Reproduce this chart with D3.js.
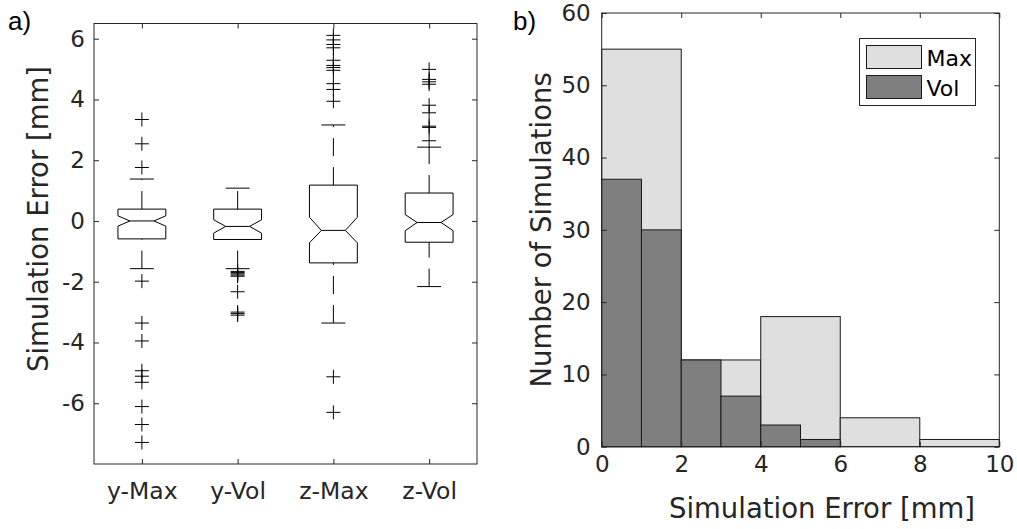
<!DOCTYPE html>
<html>
<head>
<meta charset="utf-8">
<script src="https://cdn.jsdelivr.net/npm/d3@7"></script>
<style>
  body { margin: 0; background: #fff; }
  svg { display: block; font-family: 'DejaVu Sans', sans-serif; }
  .tick text { fill: #262626; font-family: 'DejaVu Sans', sans-serif; }
</style>
</head>
<body>
<div id="chart"></div>
<script>
// Data - panel a (box plot summary stats)
const groups = ['y-Max', 'y-Vol', 'z-Max', 'z-Vol']
const q1 = [-0.59, -0.61, -1.38, -0.70]
const medians = [0, -0.18, -0.31, -0.05]
const q3 = [0.39, 0.39, 1.18, 0.92]
const notchLo = [-0.17, -0.40, -0.72, -0.32]
const notchHi = [0.17, 0.04, 0.12, 0.21]
const whiskerLo = [-1.57, -1.57, -3.36, -2.16]
const whiskerHi = [1.38, 1.08, 3.16, 2.43]
const outliers = [
  [3.34, 2.54, 1.76, -1.98, -3.36, -3.95, -4.93, -5.11, -5.31, -6.11, -6.70, -7.29],
  [-1.66, -1.70, -1.74, -1.78, -1.82, -2.33, -3.00, -3.05, -3.10],
  [6.11, 5.96, 5.81, 5.70, 5.29, 5.12, 5.05, 4.96, 4.52, 4.33, 3.94, -5.13, -6.30],
  [4.99, 4.66, 4.58, 4.50, 3.81, 3.56, 3.12, 3.08, 2.64]
]
const boxTicks = [-6, -4, -2, 0, 2, 4, 6]

// Data - panel b (histograms)
const maxEdges = [0, 2, 4, 6, 8, 10]
const maxCounts = [55, 12, 18, 4, 1]
const volEdges = [0, 1, 2, 3, 4, 5, 6]
const volCounts = [37, 30, 12, 7, 3, 1]
const histXTicks = [0, 2, 4, 6, 8, 10]
const histYTicks = [0, 10, 20, 30, 40, 50, 60]
const seriesNames = ['Max', 'Vol']

function draw() {
  const width = 1017, height = 529
  const axisColor = '#262626'
  const plain = d => String(d)   // hyphen minus, like the original

  const svg = d3.select('#chart')
    .append('svg')
    .attr('width', width)
    .attr('height', height)

  // ---------- panel a ----------
  const a = { left: 94, right: 477, top: 23.5, bottom: 464 }
  const xA = d3.scaleLinear().domain([0.5, 4.5]).range([a.left, a.right])
  const yA = d3.scaleLinear().domain([-8, 6.5]).range([a.bottom, a.top])

  const gA = svg.append('g')

  gA.append('g')
    .attr('transform', `translate(${a.left},0)`)
    .call(d3.axisLeft(yA).tickValues(boxTicks).tickSize(-5).tickSizeOuter(0).tickPadding(9).tickFormat(plain))
    .call(g => g.select('.domain').remove())
    .call(g => g.selectAll('line').attr('stroke', axisColor))
    .call(g => g.selectAll('text').attr('font-size', 23))
  gA.append('g')
    .attr('transform', `translate(${a.right},0)`)
    .call(d3.axisRight(yA).tickValues(boxTicks).tickSize(-5).tickSizeOuter(0).tickFormat(''))
    .call(g => g.select('.domain').remove())
    .call(g => g.selectAll('line').attr('stroke', axisColor))
  gA.append('g')
    .attr('transform', `translate(0,${a.bottom})`)
    .call(d3.axisBottom(xA).tickValues([1, 2, 3, 4]).tickSize(-5).tickSizeOuter(0)
      .tickPadding(18).tickFormat(i => groups[i - 1]))
    .call(g => g.select('.domain').remove())
    .call(g => g.selectAll('line').attr('stroke', axisColor))
    .call(g => g.selectAll('text').attr('font-size', 23.5))
  gA.append('g')
    .attr('transform', `translate(0,${a.top})`)
    .call(d3.axisTop(xA).tickValues([1, 2, 3, 4]).tickSize(-5).tickSizeOuter(0).tickFormat(''))
    .call(g => g.select('.domain').remove())
    .call(g => g.selectAll('line').attr('stroke', axisColor))

  gA.append('rect')
    .attr('x', a.left).attr('y', a.top)
    .attr('width', a.right - a.left).attr('height', a.bottom - a.top)
    .attr('fill', 'none').attr('stroke', axisColor)

  const boxes = gA.append('g').selectAll('g')
    .data(groups.map((name, i) => ({
      name, i: i + 1, q1: q1[i], med: medians[i], q3: q3[i],
      nLo: notchLo[i], nHi: notchHi[i], wLo: whiskerLo[i], wHi: whiskerHi[i], out: outliers[i]
    })))
    .join('g')

  const hw = xA(1.25) - xA(1)

  // whiskers (dashed, drawn bottom-up)
  boxes.append('path')
    .attr('d', d => `M${xA(d.i)},${yA(d.q3)}V${yA(d.wHi)}`)
    .attr('stroke', '#000').attr('stroke-dasharray', '18,11').attr('fill', 'none')
  boxes.append('path')
    .attr('d', d => `M${xA(d.i)},${yA(d.wLo)}V${yA(d.q1)}`)
    .attr('stroke', '#000').attr('stroke-dasharray', '18,11').attr('fill', 'none')
  // caps
  boxes.append('path')
    .attr('d', d => `M${xA(d.i) - hw / 2},${yA(d.wHi)}H${xA(d.i) + hw / 2}M${xA(d.i) - hw / 2},${yA(d.wLo)}H${xA(d.i) + hw / 2}`)
    .attr('stroke', '#000')

  // notched box
  boxes.append('path')
    .attr('d', d => {
      const cx = xA(d.i)
      return `M${cx - hw},${yA(d.q3)}H${cx + hw}V${yA(d.nHi)}L${cx + hw / 2},${yA(d.med)}` +
        `L${cx + hw},${yA(d.nLo)}V${yA(d.q1)}H${cx - hw}V${yA(d.nLo)}` +
        `L${cx - hw / 2},${yA(d.med)}L${cx - hw},${yA(d.nHi)}Z`
    })
    .attr('fill', 'none').attr('stroke', '#000')
  boxes.append('path')
    .attr('d', d => `M${xA(d.i) - hw / 2},${yA(d.med)}H${xA(d.i) + hw / 2}`)
    .attr('stroke', '#000')

  // outliers
  boxes.selectAll('.out')
    .data(d => d.out.map(v => ({ i: d.i, v })))
    .join('path')
    .attr('class', 'out')
    .attr('transform', d => `translate(${xA(d.i)},${yA(d.v)})`)
    .attr('d', 'M-7,0H7M0,-7V7')
    .attr('stroke', '#000')

  gA.append('text')
    .attr('transform', 'translate(48,219) rotate(-90)')
    .attr('text-anchor', 'middle')
    .attr('font-size', 27.5)
    .attr('fill', axisColor)
    .text('Simulation Error [mm]')

  svg.append('text')
    .attr('x', 8).attr('y', 30)
    .attr('font-family', 'Liberation Sans, Arial, sans-serif')
    .attr('font-size', 26)
    .text('a)')

  // ---------- panel b ----------
  const b = { left: 601.7, right: 999.3, top: 13, bottom: 446.7 }
  const xB = d3.scaleLinear().domain([0, 10]).range([b.left, b.right])
  const yB = d3.scaleLinear().domain([0, 60]).range([b.bottom, b.top])
  const gB = svg.append('g')

  const toBins = (edges, counts) => counts.map((c, i) => ({ x0: edges[i], x1: edges[i + 1], c }))

  gB.append('g').selectAll('rect')
    .data(toBins(maxEdges, maxCounts))
    .join('rect')
    .attr('x', d => xB(d.x0))
    .attr('y', d => yB(d.c))
    .attr('width', d => xB(d.x1) - xB(d.x0))
    .attr('height', d => yB(0) - yB(d.c))
    .attr('fill', '#dfdfdf')
    .attr('stroke', '#1a1a1a')

  gB.append('g').selectAll('rect')
    .data(toBins(volEdges, volCounts))
    .join('rect')
    .attr('x', d => xB(d.x0))
    .attr('y', d => yB(d.c))
    .attr('width', d => xB(d.x1) - xB(d.x0))
    .attr('height', d => yB(0) - yB(d.c))
    .attr('fill', '#7f7f7f')
    .attr('stroke', '#1a1a1a')

  gB.append('g')
    .attr('transform', `translate(${b.left},0)`)
    .call(d3.axisLeft(yB).tickValues(histYTicks).tickSize(-5).tickSizeOuter(0).tickPadding(11).tickFormat(plain))
    .call(g => g.select('.domain').remove())
    .call(g => g.selectAll('line').attr('stroke', axisColor))
    .call(g => g.selectAll('text').attr('font-size', 23))
  gB.append('g')
    .attr('transform', `translate(${b.right},0)`)
    .call(d3.axisRight(yB).tickValues(histYTicks).tickSize(-5).tickSizeOuter(0).tickFormat(''))
    .call(g => g.select('.domain').remove())
    .call(g => g.selectAll('line').attr('stroke', axisColor))
  gB.append('g')
    .attr('transform', `translate(0,${b.bottom})`)
    .call(d3.axisBottom(xB).tickValues(histXTicks).tickSize(-5).tickSizeOuter(0).tickPadding(9).tickFormat(plain))
    .call(g => g.select('.domain').remove())
    .call(g => g.selectAll('line').attr('stroke', axisColor))
    .call(g => g.selectAll('text').attr('font-size', 23))
  gB.append('g')
    .attr('transform', `translate(0,${b.top})`)
    .call(d3.axisTop(xB).tickValues(histXTicks).tickSize(-5).tickSizeOuter(0).tickFormat(''))
    .call(g => g.select('.domain').remove())
    .call(g => g.selectAll('line').attr('stroke', axisColor))

  gB.append('rect')
    .attr('x', b.left).attr('y', b.top)
    .attr('width', b.right - b.left).attr('height', b.bottom - b.top)
    .attr('fill', 'none').attr('stroke', axisColor)

  gB.append('text')
    .attr('x', 822).attr('y', 518)
    .attr('text-anchor', 'middle')
    .attr('font-size', 27.5)
    .attr('fill', axisColor)
    .text('Simulation Error [mm]')

  gB.append('text')
    .attr('transform', `translate(551,${(b.top + b.bottom) / 2}) rotate(-90)`)
    .attr('text-anchor', 'middle')
    .attr('font-size', 27.5)
    .attr('fill', axisColor)
    .text('Number of Simulations')

  svg.append('text')
    .attr('x', 513).attr('y', 30)
    .attr('font-family', 'Liberation Sans, Arial, sans-serif')
    .attr('font-size', 26)
    .text('b)')

  // legend
  const legend = gB.append('g').attr('transform', 'translate(859.5,38.5)')
  legend.append('rect')
    .attr('width', 116).attr('height', 67)
    .attr('fill', '#fff').attr('stroke', axisColor)
  const items = legend.selectAll('g.item')
    .data(seriesNames)
    .join('g')
    .attr('class', 'item')
    .attr('transform', (d, i) => `translate(7,${7 + i * 30})`)
  items.append('rect')
    .attr('width', 55).attr('height', 23)
    .attr('fill', (d, i) => i === 0 ? '#dfdfdf' : '#7f7f7f')
    .attr('stroke', '#1a1a1a')
  items.append('text')
    .attr('x', 60).attr('y', 20)
    .attr('font-size', 22)
    .attr('fill', '#000')
    .text(d => d)
}

draw()
</script>
</body>
</html>
